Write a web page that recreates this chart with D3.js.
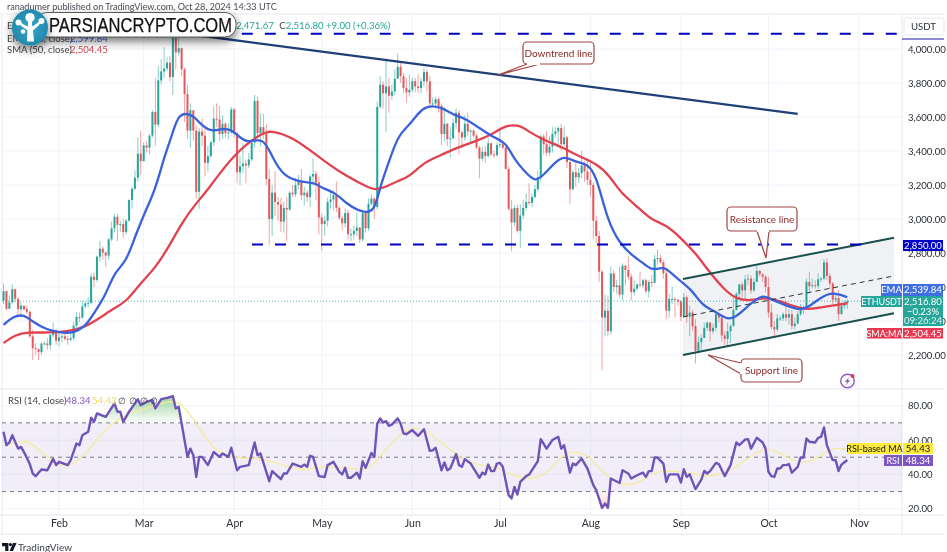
<!DOCTYPE html>
<html><head><meta charset="utf-8">
<script src="https://cdn.jsdelivr.net/npm/d3@7"></script>
<style>
html,body{margin:0;padding:0;background:#fff;overflow:hidden}
svg{display:block;font-family:Lato,"Open Sans",sans-serif;filter:blur(.3px)}
</style></head><body><div id="c"></div>
<script>
// Daily ETHUSDT candles, Jan 13 .. Oct 28 2024, each candle opens at the prior close
const firstOpen = 2520;
const closes = [
2576,2472,2510,2587,2530,2470,2490,2470,2454,2310,2240,2235,2217,2267,2268,2258,2317,2345,2283,
2304,2310,2295,2290,2299,2373,2424,2420,2486,2504,2507,2660,2642,2778,2825,2802,2785,2880,2945,3013,2966,2970,2923,2990,3112,3178,3243,3385,3340,
3433,3420,3490,3630,3555,3815,3868,3885,3920,3835,4065,3980,4005,3880,3735,3520,3640,3520,3160,3515,3490,3330,3370,3450,3590,3585,3500,3560,3505,3510,3645,
3505,3275,3310,3325,3315,3350,3450,3695,3505,3540,3500,3235,3000,3155,3100,3085,2985,3065,3055,3155,3145,3200,3220,3140,3155,3130,3250,3265,3215,3010,
2970,2990,3100,3115,3140,3065,3005,2975,3035,2910,2910,2930,2950,2880,3035,2945,3090,3120,3070,3660,3790,3740,3780,3725,3750,3825,3895,3840,3770,3745,3760,
3810,3780,3770,3810,3865,3810,3680,3680,3705,3665,3500,3560,3470,3475,3565,3625,3510,3480,3560,3515,3520,3490,3420,3355,3395,3370,3445,3380,3375,3435,
3440,3420,3295,3060,2980,3065,2930,3020,3065,3100,3095,3130,3175,3245,3485,3440,3390,3425,3500,3515,3535,3440,3480,3335,3175,3275,3245,3270,3315,3280,3230,
3200,2990,2900,2690,2420,2460,2340,2680,2600,2610,2555,2725,2700,2660,2570,2590,2615,2610,2640,2575,2630,2625,2765,2770,2745,2680,2460,2530,2530,2525,2515,
2425,2540,2425,2450,2370,2225,2275,2300,2360,2390,2340,2360,2440,2420,2315,2295,2340,2370,2465,2560,2615,2580,2645,2650,2580,2630,2695,2675,2660,2600,
2450,2365,2350,2415,2415,2440,2420,2440,2370,2385,2440,2470,2480,2630,2605,2610,2605,2645,2650,2745,2665,2620,2525,2535,2440,2490,2507,2517];
const highs = [
2620,2580,2550,2615,2590,2540,2510,2490,2490,2460,2350,2270,2240,2275,2280,2300,2325,2390,2350,
2330,2325,2340,2310,2340,2395,2450,2450,2520,2515,2540,2680,2685,2785,2870,2840,2810,2890,2985,3030,3030,2990,3000,3000,3115,3190,3285,3480,3520,
3450,3460,3500,3640,3830,3900,3940,4010,3950,3960,4090,4095,4080,4010,3890,3790,3680,3615,3550,3535,3590,3540,3430,3460,3660,3680,3665,3610,3570,3565,3660,
3650,3510,3370,3445,3350,3390,3460,3730,3720,3620,3620,3560,3290,3200,3280,3130,3125,3100,3130,3165,3200,3240,3260,3295,3190,3170,3260,3355,3285,3250,
3030,3020,3125,3170,3170,3220,3080,3020,3060,3055,2945,2960,3040,2950,3040,3040,3120,3145,3130,3690,3840,3810,3940,3830,3790,3880,3975,3925,3860,3830,3850,
3830,3830,3850,3830,3890,3880,3840,3715,3720,3715,3680,3660,3565,3540,3590,3650,3640,3520,3610,3625,3530,3530,3500,3430,3425,3430,3475,3450,3400,3450,
3525,3460,3430,3310,3110,3080,3085,3085,3115,3150,3210,3150,3200,3280,3495,3500,3515,3490,3540,3540,3545,3560,3545,3490,3340,3290,3330,3300,3400,3340,3360,
3350,3215,3020,2930,2700,2555,2550,2720,2700,2640,2720,2740,2730,2780,2680,2640,2620,2690,2650,2650,2640,2670,2790,2820,2790,2760,2700,2560,2600,2540,2530,
2525,2565,2550,2490,2465,2410,2310,2320,2390,2400,2395,2385,2460,2440,2420,2340,2390,2380,2545,2570,2620,2630,2670,2675,2670,2650,2725,2700,2680,2670,
2660,2500,2400,2440,2430,2450,2520,2470,2465,2420,2460,2500,2490,2650,2690,2650,2640,2680,2660,2765,2770,2680,2630,2560,2580,2510,2520,2530];
const lows = [
2500,2460,2470,2500,2510,2420,2420,2460,2440,2300,2170,2200,2170,2200,2255,2230,2230,2305,2260,
2250,2275,2285,2260,2280,2285,2350,2395,2415,2475,2480,2500,2600,2630,2750,2760,2720,2760,2870,2920,2870,2925,2890,2910,2985,3060,3170,3220,3260,
3340,3390,3380,3480,3430,3540,3790,3830,3870,3810,3730,3880,3960,3840,3570,3470,3420,3460,3120,3060,3430,3250,3280,3360,3430,3540,3460,3470,3480,3470,3500,
3480,3210,3200,3270,3210,3300,3340,3420,3470,3430,3470,3200,2850,2900,3020,2990,2925,2920,2870,3050,3130,3130,3175,3110,3080,3100,3070,3200,3110,2910,
2815,2900,2955,3060,3050,3040,2995,2935,2950,2880,2870,2880,2900,2860,2865,2920,2930,3080,3000,3055,3650,3650,3510,3625,3700,3730,3830,3800,3740,3685,3720,
3745,3745,3740,3740,3780,3750,3660,3660,3650,3625,3435,3455,3430,3360,3470,3530,3380,3420,3460,3490,3440,3480,3410,3240,3340,3330,3360,3370,3360,3370,
3420,3410,3290,3050,2810,2960,2920,2830,3000,3050,3080,3070,3120,3160,3220,3380,3370,3370,3390,3480,3440,3400,3430,3300,3090,3170,3190,3210,3240,3220,3200,
3130,2880,2860,2630,2110,2310,2310,2320,2570,2560,2540,2520,2610,2640,2520,2550,2580,2600,2590,2560,2540,2600,2620,2730,2740,2650,2410,2420,2500,2420,2490,
2400,2420,2390,2310,2340,2150,2210,2230,2300,2340,2280,2325,2340,2390,2280,2260,2250,2270,2370,2460,2520,2540,2530,2610,2560,2570,2630,2660,2630,2570,
2420,2350,2310,2340,2400,2400,2400,2380,2350,2350,2380,2430,2440,2470,2560,2590,2590,2590,2630,2640,2640,2590,2500,2510,2400,2440,2470,2472];

// EMA (20): day index, price
const emaDays = [0,3,7,10,15,19,23,28,31,35,38,42,45,48,52,55,58,60,65,67,71,74,78,81,84,89,92,96,102,107,108,114,117,123,127,129,131,134,136,140,144,150,154,158,163,168,172,175,179,182,185,189,192,196,200,203,207,211,215,220,222,225,227,230,236,239,244,247,250,256,260,262,266,272,275,280,284,289];
const emaVals = [2377,2424,2441,2394,2347,2335,2324,2365,2447,2553,2688,2747,2894,3024,3171,3365,3506,3629,3612,3565,3512,3530,3530,3477,3447,3482,3365,3247,3218,3212,3189,3153,3094,3035,3041,3189,3288,3435,3506,3571,3671,3659,3612,3594,3535,3477,3453,3347,3271,3218,3259,3335,3371,3335,3324,3259,2982,2859,2788,2729,2700,2712,2712,2659,2582,2494,2453,2418,2406,2506,2553,2535,2506,2465,2471,2541,2571,2539.84];
// SMA (50): day index, price
const smaDays = [0,4,8,16,23,28,33,38,42,47,52,57,61,66,70,79,89,92,99,108,115,122,127,131,135,139,144,150,155,161,167,172,177,180,185,192,196,203,208,211,218,222,227,232,237,242,247,251,256,261,266,273,277,281,289];
const smaVals = [2271,2318,2335,2330,2341,2365,2418,2477,2512,2624,2712,2847,2977,3094,3171,3388,3512,3518,3482,3365,3277,3212,3165,3189,3224,3247,3335,3376,3418,3453,3494,3553,3553,3512,3465,3418,3376,3329,3247,3159,3059,2994,2965,2888,2800,2682,2582,2529,2518,2541,2518,2471,2471,2482,2504.45];
// RSI (14)
const rsiDays = [0,1,2,3,5,6,7,9,10,11,13,15,17,18,19,22,23,25,26,27,29,30,31,32,35,38,39,40,41,43,46,47,49,51,52,54,56,58,59,60,63,64,65,66,67,68,70,72,74,75,77,78,80,81,84,86,87,88,91,92,95,96,97,99,102,103,104,105,106,108,110,111,113,115,116,117,118,119,121,122,123,124,126,127,128,129,130,131,132,133,135,136,137,138,140,142,144,146,147,148,150,151,152,153,155,156,157,158,160,163,164,165,166,167,168,169,170,171,173,174,175,176,177,179,180,183,184,186,188,190,191,192,194,195,196,198,200,202,203,205,206,207,208,211,212,214,215,217,219,220,221,222,223,224,226,227,228,231,232,233,234,235,237,239,240,241,242,244,245,247,249,251,252,254,255,256,258,260,261,262,263,264,265,266,267,268,269,270,272,273,274,275,276,278,279,280,281,282,284,285,286,287,289];
const rsiVals = [64.8,57,58.6,62.8,55,56,53,46,40.5,39,42.8,42.4,49,45.4,47.3,45.4,48.3,58,57,62.8,64.8,73,70.6,75.5,73.5,81.3,76.5,76.5,70.6,76.5,83.8,80.3,82.3,83.3,78.4,83.8,84.6,85.6,78.4,79.4,50.2,55,51.2,38.5,50.2,50.2,45.4,53,50.2,52.2,50.2,55.5,42.4,44.4,45.4,58.6,51.2,52.2,36,41.9,37.2,40.5,40.5,46.3,44.4,45.7,44.4,50.8,50.2,39,38.5,45.4,47.3,41.5,40,43.8,38,38,41,37.6,47.7,43.8,52.5,50.2,69.6,72.6,70.2,71,68.3,69,72.6,69.6,63.8,63.4,65.8,62.4,66.3,53.7,54,55.5,42.4,46.9,42.4,43.4,51.8,45.4,44.4,48.9,46.3,38,41,40,45.7,41.9,41.9,46.3,46.7,44.4,27.9,26,32.7,28.2,35.6,39,39.9,47.7,60.5,55,60,61.9,55,57,41,46.3,45.4,49.2,43.4,33.7,30.8,20.5,23,20.5,37.6,35,42.4,40.5,37.6,39.5,41,38.5,41.9,41.9,49.8,49.8,46.3,35.6,40,40,35.2,43,38.5,40,31.4,37,42,40.5,41.9,46.7,46,39,45.4,58.6,57,60.3,60.5,55,61.3,58.6,55,41.5,39,38.5,43.4,43.4,45.4,45.4,46,41,44.4,49.8,49.8,60.9,59,58.6,61.3,61.9,67.3,57,48.3,48.3,41.9,45.7,48.34];
// RSI-based MA
const rsiMaDays = [0,3,8,11,15,19,22,26,31,35,39,44,49,55,59,63,67,72,76,81,89,96,103,108,115,121,126,130,136,141,146,152,157,163,169,173,178,183,187,192,196,201,205,210,215,218,221,225,232,237,241,247,251,257,262,267,274,280,285,289];
const rsiMaVals = [57,58,60,56,50,45.4,44.4,48.3,58,66.7,71.6,76.5,78.4,81.9,83.3,77.4,66.7,55,50.8,49.6,48.9,45.4,41.9,44.4,44.8,42.4,43.4,53,63.8,68.3,63.8,56,48.3,45.4,44.4,40.5,37.6,37.6,42.4,52,53.7,50.2,41.5,34.7,33.7,35.6,39.5,42.4,41.5,40.5,38.5,40.5,44.4,52,56,51.2,45,51.2,56,54.43];

const priceTicks = [4000,3800,3600,3400,3200,3000,2800,2600,2400,2200];
const rsiTicks = [80,60,40,20];
const rsiLevels = [70,50,30];
const monthLabels = ["Feb","Mar","Apr","May","Jun","Jul","Aug","Sep","Oct","Nov"];
const lastClose = 2516.80;
const hLevels = {top:4090, mid:2850};
const hLevelDays = {top:[81.6,306.2], mid:[85.1,294]};
const trendDays=[57.7,272], trendVals=[4100,3618];
const chanDays=[232.7,305], chanUpper=[2647,2890], chanLower=[2200,2445], chanMid=[2424,2665];

const W=947,H=552, left=2, right=902;
const svg=d3.select("#c").append("svg").attr("width",W).attr("height",H);
const day0=Date.UTC(2024,0,13);
const toDate=i=>new Date(day0+i*864e5);
const x=d3.scaleUtc().domain([new Date(Date.UTC(2024,1,1)),new Date(Date.UTC(2024,10,1))]).range([59,859]);
const xi=i=>x(toDate(i));
const y=d3.scaleLinear().domain([2200,4000]).range([355,49]);
const yR=d3.scaleLinear().domain([20,80]).range([508.7,405.7]);
const defs=svg.append("defs");
defs.append("clipPath").attr("id","cp").append("rect").attr("x",left).attr("y",14).attr("width",right-left).attr("height",375);
defs.append("clipPath").attr("id","above").append("rect").attr("x",left).attr("y",389).attr("width",right-left).attr("height",yR(70)-389);
defs.append("clipPath").attr("id","below").append("rect").attr("x",left).attr("y",yR(30)).attr("width",right-left).attr("height",515-yR(30));
const gr=defs.append("linearGradient").attr("id","gOb").attr("gradientUnits","userSpaceOnUse").attr("x1",0).attr("x2",0).attr("y1",yR(86)).attr("y2",yR(70));
gr.append("stop").attr("offset",0).attr("stop-color","#4caf50").attr("stop-opacity",.55);
gr.append("stop").attr("offset",1).attr("stop-color","#4caf50").attr("stop-opacity",.02);
const gr2=defs.append("linearGradient").attr("id","gOs").attr("gradientUnits","userSpaceOnUse").attr("x1",0).attr("x2",0).attr("y1",yR(30)).attr("y2",yR(20));
gr2.append("stop").attr("offset",0).attr("stop-color","#ef5350").attr("stop-opacity",.03);
gr2.append("stop").attr("offset",1).attr("stop-color","#ef5350").attr("stop-opacity",.3);

const gridC="#f0f3fa", sepC="#e6e8ee";
const months=d3.utcMonth.range(new Date(Date.UTC(2024,1,1)),new Date(Date.UTC(2024,10,2)));
svg.append("g").selectAll("line").data(months).join("line").attr("x1",x).attr("x2",x).attr("y1",14).attr("y2",515).attr("stroke",gridC);
svg.append("g").selectAll("line").data(priceTicks).join("line").attr("x1",left).attr("x2",right).attr("y1",y).attr("y2",y).attr("stroke",gridC);
svg.append("g").selectAll("line").data(rsiTicks).join("line").attr("x1",left).attr("x2",right).attr("y1",yR).attr("y2",yR).attr("stroke",gridC);
[[0,14,945,14],[0,389,945,389],[0,515,945,515],[0,534,945,534],[2,14,2,534],[902,14,902,534]].forEach(l=>
 svg.append("line").attr("x1",l[0]).attr("y1",l[1]).attr("x2",l[2]).attr("y2",l[3]).attr("stroke",sepC));

const main=svg.append("g").attr("clip-path","url(#cp)");
const chanPoly=[[chanDays[0],chanUpper[0]],[chanDays[1],chanUpper[1]],[chanDays[1],chanLower[1]],[chanDays[0],chanLower[0]]];
main.append("path").attr("d",d3.line().x(d=>xi(d[0])).y(d=>y(d[1]))(chanPoly)+"Z").attr("fill","#eff1f5");
main.append("line").attr("x1",left).attr("x2",right).attr("y1",y(lastClose)).attr("y2",y(lastClose)).attr("stroke","#26a69a").attr("stroke-dasharray","1 2").attr("opacity",.8);
const candles=closes.map((c,i)=>({i,o:i?closes[i-1]:firstOpen,c,h:highs[i],l:lows[i]}));
const col=d=>d.c>=d.o?"#26a69a":"#e5575a";
const cg=main.append("g");
cg.selectAll("line").data(candles).join("line").attr("x1",d=>xi(d.i)).attr("x2",d=>xi(d.i)).attr("y1",d=>y(d.h)).attr("y2",d=>y(d.l)).attr("stroke",col).attr("stroke-opacity",.55).attr("stroke-width",1);
cg.selectAll("rect").data(candles).join("rect").attr("x",d=>xi(d.i)-1).attr("width",2)
 .attr("y",d=>y(Math.max(d.o,d.c))).attr("height",d=>Math.max(1,Math.abs(y(d.o)-y(d.c)))).attr("fill",col);
const maLine=d3.line().x(d=>xi(d[0])).y(d=>y(d[1])).curve(d3.curveBasis);
main.append("path").attr("d",maLine(d3.zip(smaDays,smaVals))).attr("fill","none").attr("stroke","#e2414e").attr("stroke-width",2.3);
main.append("path").attr("d",maLine(d3.zip(emaDays,emaVals))).attr("fill","none").attr("stroke","#3a62da").attr("stroke-width",2.3);
const sl=d3.line().x(d=>xi(d[0])).y(d=>y(d[1]));
main.append("path").attr("d",sl(d3.zip(chanDays,chanUpper))).attr("stroke","#17504e").attr("stroke-width",2).attr("fill","none");
main.append("path").attr("d",sl(d3.zip(chanDays,chanLower))).attr("stroke","#17504e").attr("stroke-width",2).attr("fill","none");
main.append("path").attr("d",sl(d3.zip(chanDays,chanMid))).attr("stroke","#2b3a3a").attr("stroke-width",1).attr("stroke-dasharray","5 4").attr("fill","none");
["top","mid"].forEach(k=>{
 main.append("line").attr("x1",xi(hLevelDays[k][0])).attr("x2",xi(hLevelDays[k][1])).attr("y1",y(hLevels[k])).attr("y2",y(hLevels[k]))
  .attr("stroke","#0000bf").attr("stroke-width",2).attr("stroke-dasharray","11 12");
});
main.append("path").attr("d",sl(d3.zip(trendDays,trendVals))).attr("stroke","#1e3f78").attr("stroke-width",2.3).attr("fill","none");

function callout(bx,by,bw,bh,pts,label){
 const g=svg.append("g");
 g.append("rect").attr("x",bx).attr("y",by).attr("width",bw).attr("height",bh).attr("rx",4).attr("fill","#fff").attr("stroke","#a04545").attr("stroke-width",1.2);
 g.append("path").attr("d",d3.line()(pts)).attr("fill","#fff").attr("stroke","#a04545").attr("stroke-width",1.2).attr("stroke-linejoin","miter");
 g.append("line").attr("x1",pts[0][0]).attr("y1",pts[0][1]).attr("x2",pts[2][0]).attr("y2",pts[2][1]).attr("stroke","#fff").attr("stroke-width",2);
 g.append("text").attr("x",bx+bw/2).attr("y",by+bh/2+3.5).attr("text-anchor","middle").attr("font-size",10).attr("fill","#8a2a2a").text(label);
}
callout(523,42,71,22,[[527,64],[498,75],[540,64]],"Downtrend line");
callout(727,207,70,24,[[757,231],[766,258],[769,231]],"Resistance line");
callout(741,359,61,23,[[741,363],[708,355],[741,374]],"Support line");

svg.append("rect").attr("x",left).attr("width",right-left).attr("y",yR(70)).attr("height",yR(30)-yR(70)).attr("fill","#7e57c2").attr("opacity",.1);
svg.append("g").selectAll("line").data(rsiLevels).join("line").attr("x1",left).attr("x2",right).attr("y1",yR).attr("y2",yR).attr("stroke","#787b86").attr("stroke-width",1).attr("stroke-dasharray","4 4");
const rsiPts=d3.zip(rsiDays,rsiVals);
svg.append("path").attr("clip-path","url(#above)").attr("d",d3.area().x(d=>xi(d[0])).y0(yR(70)).y1(d=>yR(d[1]))(rsiPts)).attr("fill","url(#gOb)");
svg.append("path").attr("clip-path","url(#below)").attr("d",d3.area().x(d=>xi(d[0])).y0(yR(30)).y1(d=>yR(d[1]))(rsiPts)).attr("fill","url(#gOs)");
svg.append("path").attr("d",d3.line().x(d=>xi(d[0])).y(d=>yR(d[1])).curve(d3.curveBasis)(d3.zip(rsiMaDays,rsiMaVals))).attr("fill","none").attr("stroke","#f5ec9a").attr("stroke-width",1.3);
svg.append("path").attr("d",d3.line().x(d=>xi(d[0])).y(d=>yR(d[1]))(rsiPts)).attr("fill","none").attr("stroke","#6f54b8").attr("stroke-width",2.4).attr("stroke-linejoin","round");

const txtC="#2a2e39";
const fmt=d3.format(",.2f");
const ay=svg.append("g").attr("transform","translate(902,0)").call(d3.axisRight(y).tickValues(priceTicks).tickFormat(fmt).tickSize(0).tickPadding(6));
const ar=svg.append("g").attr("transform","translate(902,0)").call(d3.axisRight(yR).tickValues(rsiTicks).tickFormat(fmt).tickSize(0).tickPadding(6));
const ax=svg.append("g").attr("transform","translate(0,516)").call(d3.axisBottom(x).tickValues(months).tickFormat((d,i)=>monthLabels[i]).tickSize(0).tickPadding(4));
[ay,ar].forEach(a=>{a.select(".domain").remove();a.selectAll("text").attr("font-family","Lato").attr("font-size",9.6).attr("fill",txtC);});
ax.select(".domain").remove();ax.selectAll("text").attr("font-family","Lato").attr("font-size",10.5).attr("fill",txtC);

function tag(xa,yt,w,h,bg,fg,label,fs){
 svg.append("rect").attr("x",xa).attr("y",yt).attr("width",w).attr("height",h).attr("fill",bg);
 svg.append("text").attr("x",xa+w/2).attr("y",yt+h/2+3.4).attr("text-anchor","middle").attr("font-size",fs||9.6).attr("fill",fg).text(label);
}
tag(903,240,40,11,"#0000cc","#fff",fmt(hLevels.mid));
tag(881,284,21,12,"#3f6fe3","#fff","EMA");
tag(903,284,40,12,"#3f6fe3","#fff",fmt(emaVals[emaVals.length-1]));
tag(861,296,41,11,"#26a69a","#fff","ETHUSDT",9);
svg.append("rect").attr("x",903).attr("y",296).attr("width",40).attr("height",30).attr("fill","#26a69a");
[["2,516.80",305],["−0.23%",315],["09:26:24",324]].forEach(([t,yy],i)=>svg.append("text").attr("x",923).attr("y",yy).attr("text-anchor","middle").attr("font-size",9.6).attr("fill",i==2?"#e6f5f3":"#fff").text(t));
tag(867,328,35,10.5,"#e8384f","#fff","SMA:MA",9);
tag(903,328,40,10.5,"#e8384f","#fff",fmt(smaVals[smaVals.length-1]));
tag(847,443,55,11,"#ffeb3b","#131722","RSI-based MA",9);
tag(903,443,30,11,"#ffeb3b","#131722",fmt(rsiMaVals[rsiMaVals.length-1]));
tag(884,455,18,11,"#7e57c2","#fff","RSI",9);
tag(903,455,30,11,"#7e57c2","#fff",fmt(rsiVals[rsiVals.length-1]));
svg.append("rect").attr("x",904).attr("y",18).attr("width",40).attr("height",17).attr("rx",2).attr("fill","#fff").attr("stroke","#e6e8ee");
svg.append("text").attr("x",911).attr("y",30).attr("font-size",9.6).attr("fill",txtC).text("USDT");
svg.append("line").attr("x1",902).attr("x2",944).attr("y1",39).attr("y2",39).attr("stroke","#1a1aa8").attr("stroke-width",1);

const lg=(xx,yy,t,c,fs)=>svg.append("text").attr("x",xx).attr("y",yy).attr("font-size",fs||9.6).attr("fill",c).text(t);
lg(7,9.5,"ranadumer published on TradingView.com, Oct 28, 2024 14:33 UTC","#4a4e59",9.1);
lg(7,29,"ETHUSDT","#444");
lg(7,41.5,"EMA (20, close)","#444");
lg(70,41.5,"2,599.84","#3a62da");
lg(7,52.5,"SMA (50, close)","#444");
lg(70,52.5,"2,504.45","#d9434e");
const hdr=svg.append("text").attr("x",236).attr("y",29).attr("font-size",9.6).attr("fill","#26a69a");
hdr.append("tspan").text("2,471.67 ");
hdr.append("tspan").attr("fill","#444").attr("dx",3).text("C");
hdr.append("tspan").text("2,516.80 +9.00 (+0.36%)");
lg(8,404,"RSI (14, close)","#444");
lg(66,404,"48.34","#7e57c2");
lg(92,404,"54.43","#f2dc4d");
[118,129,140,150].forEach(xx=>lg(xx,404,"∅","#444",8.5));

const bolt=svg.append("g").attr("transform","translate(847.5,381)");
bolt.append("circle").attr("r",6.8).attr("fill","#fff").attr("stroke","#8e5cc5").attr("stroke-width",1.4);
bolt.append("path").attr("d","M1.5,-4 L-2.6,1 L-.3,1 L-1.5,4.2 L2.6,-.8 L.3,-.8 Z").attr("fill","#8e5cc5");
bolt.append("circle").attr("cx",5).attr("cy",-5).attr("r",2).attr("fill","#e8384f");

const tv=svg.append("g").attr("transform","translate(2,543)");
tv.append("path").attr("d","M0,0 H6.4 V8 H3.2 V3.2 H0 Z").attr("fill","#131722");
tv.append("circle").attr("cx",8.4).attr("cy",1.6).attr("r",1.6).attr("fill","#131722");
tv.append("path").attr("d","M11,0 H14.6 L11,8 H7.6 Z").attr("fill","#131722");
lg(18,551,"TradingView","#3a3e49",10);

const sh=defs.append("filter").attr("id","sh").attr("x","-20%").attr("y","-60%").attr("width","140%").attr("height","260%");
sh.append("feDropShadow").attr("dx",0).attr("dy",4).attr("stdDeviation",5).attr("flood-color","#000").attr("flood-opacity",.55);
const wm=svg.append("g");
wm.append("rect").attr("x",36).attr("y",12.5).attr("width",200).attr("height",24.5).attr("rx",11).attr("fill","#fff").attr("stroke","#333").attr("stroke-width",.8).attr("filter","url(#sh)");
wm.append("text").attr("x",49).attr("y",31.5).attr("font-family","Liberation Sans").attr("font-size",20).attr("fill","#111").attr("stroke","#111").attr("stroke-width",.25).attr("textLength",183).attr("lengthAdjust","spacingAndGlyphs").text("PARSIANCRYPTO.COM");
const lgGrad=defs.append("radialGradient").attr("id","lg");
lgGrad.append("stop").attr("offset",0).attr("stop-color","#38a9cc");
lgGrad.append("stop").attr("offset",1).attr("stop-color","#2289ad");
const logo=wm.append("g").attr("transform","translate(30,27.5)");
logo.append("circle").attr("r",18).attr("fill","url(#lg)").attr("filter","url(#sh)");
logo.append("path").attr("d","M-3,14 L-2.5,3 C-6,0 -9,-1 -11,-4 L-9,-5 C-7,-3 -4,-2 -2,-1 L-2,-8 L2,-8 L2,-1 C4,-2 7,-4 9,-6 L11,-5 C8,-1 5,1 3,3 L4,14 Z").attr("fill","#fff");
[[0,-10,4.6],[-11.5,-5,3],[11.5,-6.5,3],[-7,4,2.2]].forEach(c=>logo.append("circle").attr("cx",c[0]).attr("cy",c[1]).attr("r",c[2]).attr("fill","#fff"));
</script></body></html>
